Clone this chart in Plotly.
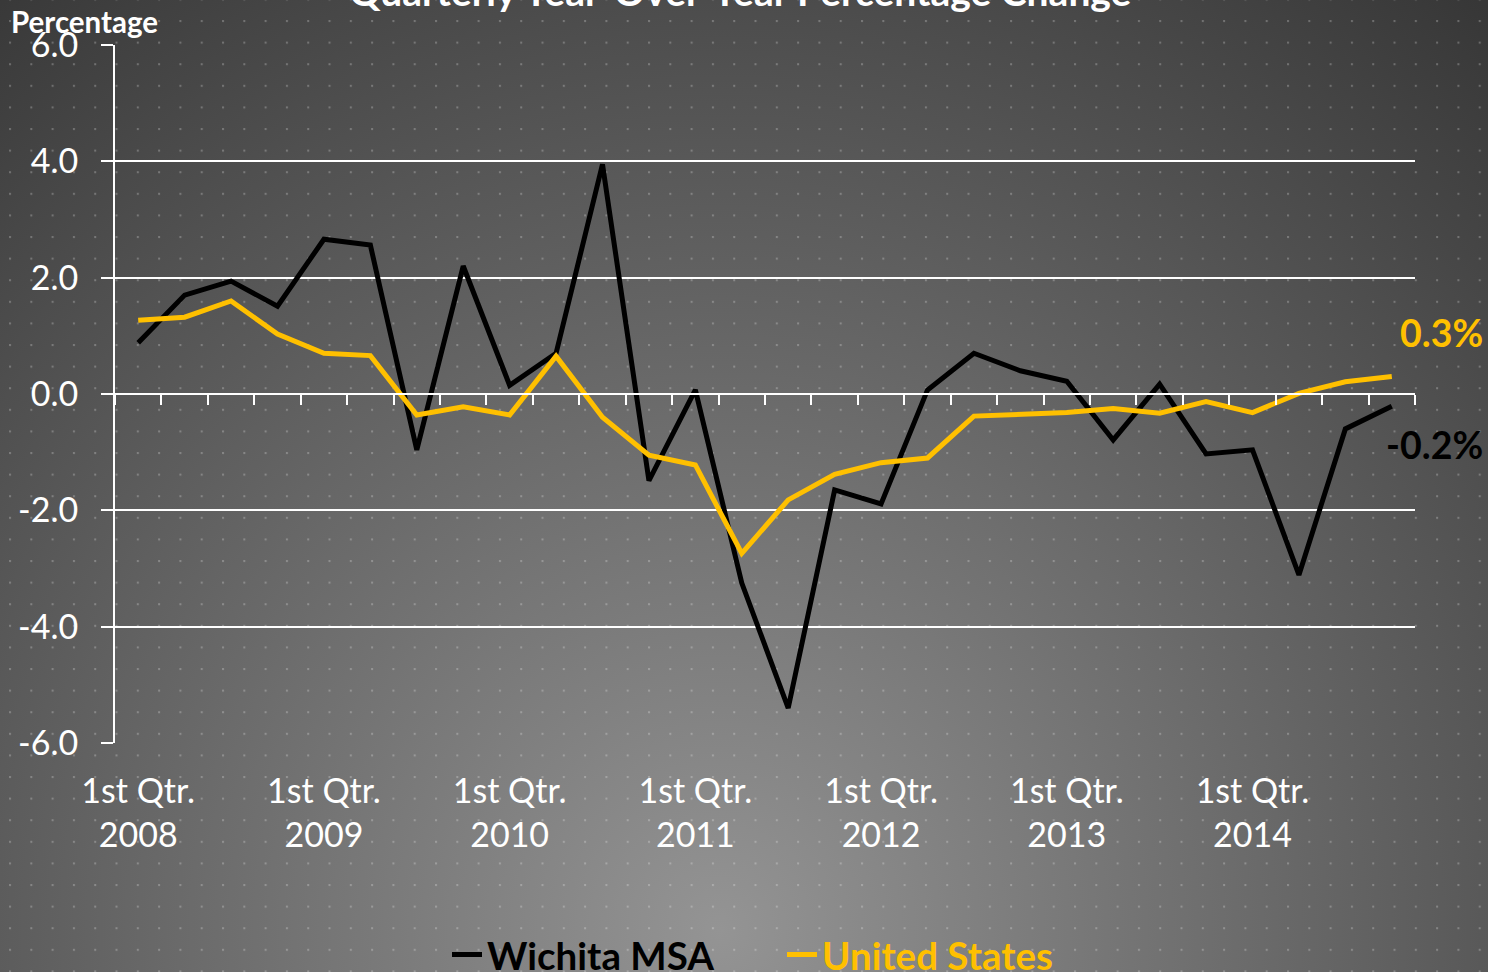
import base64
import plotly.graph_objects as go

quarters = [
    "2008 Q1", "2008 Q2", "2008 Q3", "2008 Q4",
    "2009 Q1", "2009 Q2", "2009 Q3", "2009 Q4",
    "2010 Q1", "2010 Q2", "2010 Q3", "2010 Q4",
    "2011 Q1", "2011 Q2", "2011 Q3", "2011 Q4",
    "2012 Q1", "2012 Q2", "2012 Q3", "2012 Q4",
    "2013 Q1", "2013 Q2", "2013 Q3", "2013 Q4",
    "2014 Q1", "2014 Q2", "2014 Q3", "2014 Q4",
]
wichita = [0.88, 1.70, 1.94, 1.51, 2.66, 2.56, -0.96, 2.20,
           0.15, 0.70, 3.95, -1.49, 0.07, -3.25, -5.40, -1.65,
           -1.89, 0.07, 0.70, 0.40, 0.22, -0.79, 0.17, -1.03,
           -0.96, -3.11, -0.60, -0.21]
united_states = [1.27, 1.32, 1.60, 1.03, 0.70, 0.66, -0.36, -0.22,
                 -0.36, 0.65, -0.40, -1.05, -1.22, -2.74, -1.82, -1.38,
                 -1.18, -1.10, -0.38, -0.34, -0.32, -0.25, -0.33, -0.13,
                 -0.32, 0.01, 0.21, 0.30]
tick_quarters = ["2008 Q1", "2009 Q1", "2010 Q1", "2011 Q1", "2012 Q1", "2013 Q1", "2014 Q1"]
tick_labels = ["1st Qtr.<br>2008", "1st Qtr.<br>2009", "1st Qtr.<br>2010", "1st Qtr.<br>2011",
               "1st Qtr.<br>2012", "1st Qtr.<br>2013", "1st Qtr.<br>2014"]
y_ticks = [-6.0, -4.0, -2.0, 0.0, 2.0, 4.0, 6.0]
y_tick_labels = ["-6.0", "-4.0", "-2.0", "0.0", "2.0", "4.0", "6.0"]

BLACK = "#000000"
GOLD = "#FFC000"
FONT = "Lato"

W, H = 1488, 972
ML, MR, MT, MB = 115, 73, 45, 229
PW, PH = W - ML - MR, H - MT - MB

svg = f'''<svg xmlns="http://www.w3.org/2000/svg" width="{W}" height="{H}" viewBox="0 0 {W} {H}">
<defs>
<radialGradient id="g" gradientUnits="userSpaceOnUse" cx="720" cy="930" r="1200">
<stop offset="0" stop-color="#949494"/>
<stop offset="1" stop-color="#373737"/>
</radialGradient>
<pattern id="d" x="9" y="20" width="21.3" height="21.6" patternUnits="userSpaceOnUse">
<circle cx="1" cy="1" r="1.15" fill="rgba(255,255,255,0.25)"/>
</pattern>
</defs>
<rect width="{W}" height="{H}" fill="url(#g)"/>
<rect width="{W}" height="{H}" fill="url(#d)"/>
</svg>'''
bg_src = "data:image/svg+xml;base64," + base64.b64encode(svg.encode()).decode()

fig = go.Figure()
fig.add_trace(go.Scatter(x=quarters, y=wichita, mode="lines", name="<b>Wichita MSA</b>",
                         line=dict(color=BLACK, width=5)))
fig.add_trace(go.Scatter(x=quarters, y=united_states, mode="lines",
                         name=f"<b><span style='color:{GOLD}'>United States</span></b>",
                         line=dict(color=GOLD, width=5)))
# helper trace for the zero-line axis with boundary ticks
fig.add_trace(go.Scatter(x=[0], y=[None], xaxis="x2", yaxis="y", showlegend=False,
                         hoverinfo="skip", mode="lines"))

fig.add_layout_image(dict(source=bg_src, xref="paper", yref="paper",
                          x=-ML / PW, y=1 + MT / PH, sizex=W / PW, sizey=H / PH,
                          xanchor="left", yanchor="top", sizing="stretch", layer="below"))

fig.add_annotation(text="<b>Quarterly Year-Over-Year Percentage Change</b>",
                   xref="paper", yref="paper", x=(739.5 - ML) / PW, y=1 + (MT + 9) / PH,
                   xanchor="center", yanchor="middle", showarrow=False,
                   font=dict(family=FONT, size=39, color="white"))
fig.add_annotation(text="<b>Percentage</b>", xref="paper", yref="paper",
                   x=(9 - ML) / PW, y=1 + (MT - 22) / PH, xanchor="left", yanchor="middle",
                   showarrow=False, font=dict(family=FONT, size=29.5, color="white"))
fig.add_annotation(text=f"<b>{united_states[-1]:.1f}%</b>", xref="paper", yref="paper",
                   x=(1441 - ML) / PW, y=(743 - 333) / PH, xanchor="center", yanchor="middle",
                   showarrow=False, font=dict(family=FONT, size=37.5, color=GOLD))
fig.add_annotation(text=f"<b>{wichita[-1]:.1f}%</b>", xref="paper", yref="paper",
                   x=(1434 - ML) / PW, y=(743 - 444) / PH, xanchor="center", yanchor="middle",
                   showarrow=False, font=dict(family=FONT, size=37.5, color=BLACK))

fig.update_layout(
    width=W, height=H,
    margin=dict(l=ML, r=MR, t=MT, b=MB, autoexpand=False),
    paper_bgcolor="#3c3c3c",
    plot_bgcolor="rgba(0,0,0,0)",
    font=dict(family=FONT, color="white"),
    showlegend=True,
    legend=dict(orientation="h", x=(447 - ML) / PW, xanchor="left", y=(743 - 955) / PH,
                yanchor="middle", entrywidth=290, entrywidthmode="pixels",
                font=dict(family=FONT, size=38.5, color=BLACK), bgcolor="rgba(0,0,0,0)",
                traceorder="normal"),
    xaxis=dict(type="category", categoryorder="array", categoryarray=quarters,
               range=[-0.5, 27.5], tickvals=tick_quarters, ticktext=tick_labels,
               showgrid=False, zeroline=False, showline=False, ticks="",
               ticklabelstandoff=25,
               tickfont=dict(family=FONT, size=34, color="white")),
    xaxis2=dict(overlaying="x", anchor="free", position=0.5, range=[-0.5, 27.5],
                tick0=0.5, dtick=1, ticks="outside", ticklen=10, tickwidth=2, tickcolor="white",
                showline=True, linecolor="white", linewidth=2, showgrid=False, zeroline=False,
                showticklabels=False),
    yaxis=dict(range=[-6, 6], tickvals=y_ticks, ticktext=y_tick_labels,
               showgrid=True, gridcolor="white",
               gridwidth=2, zeroline=False, showline=True, linecolor="white", linewidth=2,
               ticks="outside", ticklen=12, tickwidth=2, tickcolor="white",
               ticklabelstandoff=16,
               tickfont=dict(family=FONT, size=34, color="white")),
)

fig.write_html("out.html", config={"displayModeBar": False},
               post_script="document.body.style.margin='0';document.body.style.overflow='hidden';")
